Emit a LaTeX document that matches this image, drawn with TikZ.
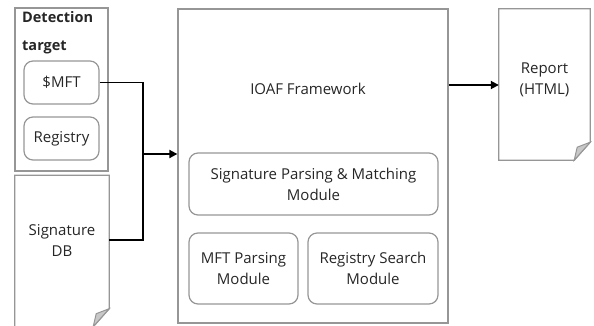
\documentclass[tikz,border=0pt]{standalone}
\usepackage{fontspec}
\setmainfont{Open Sans}
\definecolor{edge}{RGB}{150,150,150}
\definecolor{foldfill}{RGB}{200,200,200}
\usetikzlibrary{arrows.meta}
\tikzset{
  module/.style={draw=edge, line width=1.2pt, rounded corners=9pt, align=center, inner sep=0pt},
  doc/.style={inner sep=0pt},
  outline/.style={draw=edge, line width=1.3pt, fill=white},
  fold/.style={draw=edge, line width=1pt, fill=foldfill},
  flow/.style={draw=black, line width=1.8pt},
  arr/.style={flow, -{Triangle[length=8pt,width=8pt]}},
  txt/.style={font=\fontsize{15}{21}\selectfont, align=center, inner sep=0pt, text=black!85}
}
\begin{document}
\begin{tikzpicture}[x=1pt,y=-1pt]
\useasboundingbox (0,0) rectangle (594,325);
% Detection target container
\node[draw=edge, line width=1.3pt, minimum width=93pt, minimum height=163pt, inner sep=0pt] (det) at (61.5,89.5) {};
\node[anchor=north west, inner sep=0pt, font=\bfseries\fontsize{14.5}{28}\selectfont, align=left, text=black!85] (dettxt) at (22,11) {Detection\\target};
\node[module, txt, minimum width=75pt, minimum height=43pt] (mft) at (61.5,82.5) {\$MFT};
\node[module, txt, minimum width=75pt, minimum height=43pt] (reg) at (61.5,138.5) {Registry};
% Signature DB document
\node[doc, minimum width=94pt, minimum height=151pt] (sigdb) at (62,251) {};
\path[outline] (sigdb.north west) -- (sigdb.north east) -- ([yshift=18pt]sigdb.south east) -- ([xshift=-16pt]sigdb.south east) -- (sigdb.south west) -- cycle;
\path[fold] ([yshift=18pt]sigdb.south east) -- ([xshift=-16pt]sigdb.south east) -- ([xshift=-13pt,yshift=13pt]sigdb.south east) -- cycle;
\node[txt] (sigdbtxt) at (62,240) {Signature\\DB};
% Framework
\node[draw=edge, line width=1.3pt, minimum width=270pt, minimum height=314pt, inner sep=0pt] (fw) at (313,166) {};
\node[txt] (fwtxt) at (308,89) {IOAF Framework};
\node[module, txt, minimum width=249pt, minimum height=62pt] (spm) at (313.5,184) {Signature Parsing \& Matching\\Module};
\node[module, txt, minimum width=109pt, minimum height=71pt] (mftp) at (243.5,268.5) {MFT Parsing\\Module};
\node[module, txt, minimum width=130pt, minimum height=71pt] (rsm) at (373,268.5) {Registry Search\\Module};
% Report document
\node[doc, minimum width=91pt, minimum height=151pt] (rep) at (544.5,84.5) {};
\path[outline] (rep.north west) -- (rep.north east) -- ([yshift=18pt]rep.south east) -- ([xshift=-16pt]rep.south east) -- (rep.south west) -- cycle;
\path[fold] ([yshift=18pt]rep.south east) -- ([xshift=-16pt]rep.south east) -- ([xshift=-13pt,yshift=13pt]rep.south east) -- cycle;
\node[txt] (reptxt) at (544.5,80) {Report\\(HTML)};
% Connectors
\coordinate (join) at (143,154);
\draw[flow] (mft.east) -- (mft.east -| join) -- (join);
\draw[flow] (sigdbtxt -| sigdb.east) -- (sigdbtxt -| join) -- (join);
\draw[arr] (join) -- (join -| fw.west);
\draw[arr] ([yshift=-0.5pt]rep.west -| fw.east) -- ([yshift=-0.5pt]rep.west);
\end{tikzpicture}
\end{document}
